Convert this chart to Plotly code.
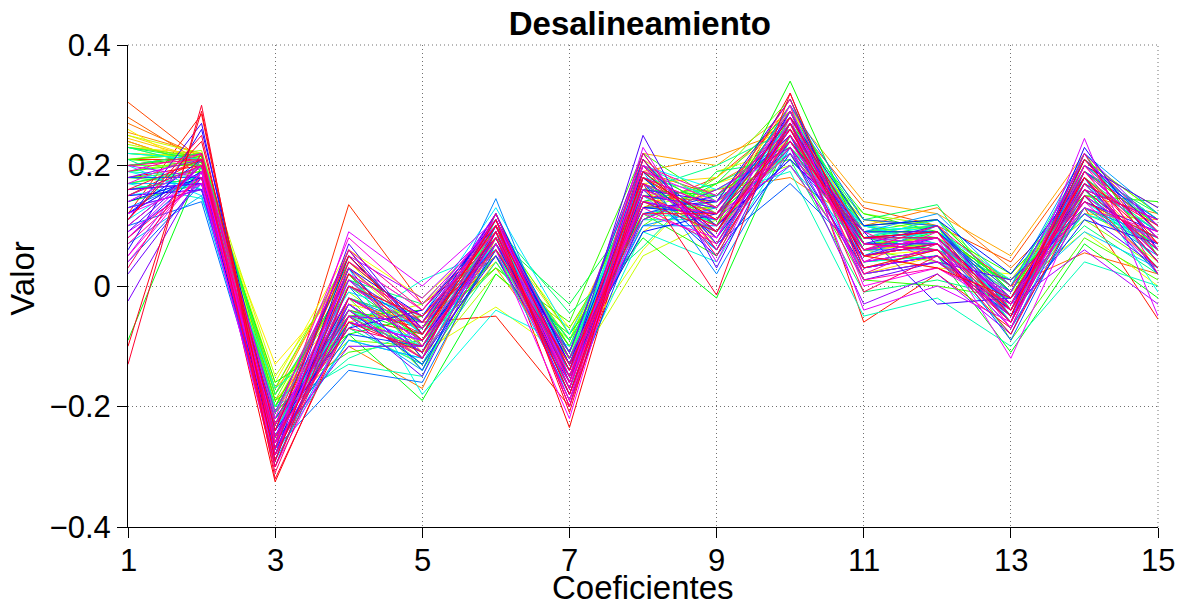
import colorsys
import plotly.graph_objects as go

coeficientes = list(range(1, 16))
x_ticks = [1, 3, 5, 7, 9, 11, 13, 15]
y_ticks = [-0.4, -0.2, 0, 0.2, 0.4]
y_tick_text = ["\u22120.4", "\u22120.2", "0", "0.2", "0.4"]

# Group A: value of each curve at coefficient k (curve index = position in list)
c01 = [0.18, 0.12, 0.21, 0.305, 0.28, 0.27, 0.255, 0.24,
       0.245, 0.23, 0.26, 0.22, 0.2, 0.25, 0.235, 0.21,
       0.2, 0.23, 0.18, 0.21, 0.19, 0.16, -0.09, 0.14,
       0.22, 0.17, 0.2, 0.23, 0.21, 0.19, 0.17, 0.22,
       0.15, 0.2, 0.12, 0.17, 0.15, 0.13, 0.1, 0.18,
       0.08, 0.16, 0.12, 0.14, 0.06, 0.11, 0.09, 0.16,
       -0.025, 0.13, 0.05, 0.2, 0.08, 0.12, 0.04, 0.17,
       0.1, 0.07, 0.2, 0.15, 0.03, 0.11, -0.13, -0.1]
c02 = [0.2, 0.285, 0.21, 0.21, 0.205, 0.215, 0.22, 0.2,
       0.21, 0.22, 0.19, 0.215, 0.2, 0.22, 0.21, 0.225,
       0.2, 0.215, 0.19, 0.22, 0.205, 0.18, 0.2, 0.17,
       0.21, 0.195, 0.22, 0.2, 0.16, 0.18, 0.145, 0.21,
       0.17, 0.15, 0.19, 0.17, 0.2, 0.16, 0.14, 0.18,
       0.19, 0.17, 0.21, 0.18, 0.26, 0.27, 0.2, 0.17,
       0.19, 0.16, 0.21, 0.18, 0.2, 0.17, 0.19, 0.22,
       0.2, 0.18, 0.21, 0.2, 0.22, 0.25, 0.3, 0.29]
c03 = [-0.325, -0.3, -0.26, -0.24, -0.2, -0.22, -0.18, -0.21,
       -0.17, -0.19, -0.13, -0.16, -0.2, -0.15, -0.23, -0.18,
       -0.21, -0.17, -0.24, -0.19, -0.22, -0.2, -0.16, -0.25,
       -0.21, -0.23, -0.18, -0.26, -0.22, -0.2, -0.17, -0.27,
       -0.24, -0.21, -0.28, -0.25, -0.29, -0.23, -0.27, -0.3,
       -0.26, -0.22, -0.28, -0.25, -0.24, -0.29, -0.27, -0.23,
       -0.26, -0.28, -0.21, -0.25, -0.27, -0.3, -0.24, -0.22,
       -0.26, -0.28, -0.23, -0.25, -0.31, -0.27, -0.32, -0.29]
c04 = [-0.05, -0.02, 0.135, 0.06, 0.02, -0.1, 0.05, -0.03,
       0.04, -0.06, 0.01, 0.06, -0.04, 0.03, -0.07, 0.0,
       -0.09, 0.05, -0.02, -0.11, -0.05, 0.02, -0.08, -0.04,
       0.04, -0.06, 0.01, -0.03, -0.12, -0.13, -0.07, 0.03,
       -0.05, -0.01, -0.09, 0.02, -0.06, -0.03, -0.14, 0.0,
       -0.08, -0.04, 0.05, -0.02, -0.07, 0.03, 0.07, -0.05,
       -0.1, 0.01, 0.05, -0.03, 0.09, -0.06, 0.02, 0.08,
       -0.04, 0.0, 0.06, -0.07, -0.02, 0.04, -0.06, 0.02]
c05 = [-0.08, -0.06, -0.03, -0.1, -0.05, -0.17, -0.07, -0.12,
       -0.04, -0.09, -0.06, -0.02, -0.11, -0.08, -0.13, -0.05,
       -0.1, -0.07, -0.14, -0.09, -0.04, -0.12, -0.19, -0.08,
       -0.06, -0.1, -0.03, -0.13, -0.07, -0.15, 0.01, -0.18,
       -0.09, -0.05, -0.12, -0.08, -0.14, -0.11, -0.16, -0.06,
       -0.1, -0.13, -0.07, -0.09, -0.04, -0.12, -0.08, -0.15,
       -0.1, -0.06, -0.02, -0.11, 0.0, -0.09, -0.05, -0.03,
       -0.12, -0.07, -0.04, -0.1, -0.08, -0.06, -0.11, -0.09]
c06 = [0.09, -0.05, 0.06, 0.1, 0.05, 0.08, 0.03, 0.07,
       0.1, 0.06, 0.04, 0.09, -0.035, 0.07, 0.02, 0.08,
       0.05, 0.1, 0.06, 0.03, 0.09, 0.07, 0.02, 0.11,
       0.08, 0.05, 0.1, 0.04, 0.07, 0.12, 0.06, -0.04,
       0.09, 0.13, 0.08, 0.05, 0.1, 0.145, 0.07, 0.11,
       0.09, 0.06, 0.12, 0.08, 0.1, 0.05, 0.11, 0.09,
       0.07, 0.12, 0.1, 0.08, 0.11, 0.06, 0.09, 0.1,
       0.07, 0.11, 0.09, 0.08, 0.1, 0.06, 0.09, 0.11]
c07 = [-0.235, -0.2, -0.15, -0.12, -0.17, -0.09, -0.14, -0.11,
       -0.16, -0.1, -0.13, -0.07, -0.12, -0.15, -0.09, -0.11,
       -0.14, -0.08, -0.12, -0.06, -0.1, -0.13, -0.08, -0.16,
       -0.03, -0.11, -0.045, -0.14, -0.09, -0.12, -0.17, -0.1,
       -0.13, -0.08, -0.15, -0.18, -0.12, -0.16, -0.14, -0.11,
       -0.19, -0.15, -0.13, -0.17, -0.12, -0.16, -0.14, -0.18,
       -0.11, -0.15, -0.2, -0.13, -0.17, -0.22, -0.16, -0.14,
       -0.19, -0.12, -0.17, -0.15, -0.2, -0.13, -0.18, -0.21]
c08 = [0.18, 0.15, 0.2, 0.13, 0.17, 0.11, 0.19, 0.22,
       0.14, 0.16, 0.09, 0.12, 0.06, 0.05, 0.18, 0.13,
       0.2, 0.1, 0.15, 0.22, 0.12, 0.17, 0.08, 0.19,
       0.14, 0.21, 0.065, 0.16, 0.11, 0.18, 0.09, 0.13,
       0.2, 0.15, 0.12, 0.17, 0.1, 0.19, 0.14, 0.21,
       0.12, 0.16, 0.09, 0.18, 0.13, 0.2, 0.25, 0.15,
       0.22, 0.11, 0.17, 0.14, 0.23, 0.19, 0.12, 0.16,
       0.2, 0.13, 0.18, 0.15, 0.21, 0.12, 0.17, 0.19]
c09 = [0.1, 0.14, 0.06, 0.18, 0.12, 0.16, 0.215, 0.2,
       0.15, 0.08, 0.17, 0.13, 0.19, 0.11, 0.07, 0.16,
       0.12, 0.18, 0.09, 0.14, 0.05, 0.1, -0.02, 0.13,
       0.17, 0.08, 0.19, 0.2, 0.11, 0.15, 0.04, 0.12,
       0.16, 0.06, 0.14, 0.09, 0.13, 0.02, 0.11, 0.07,
       0.15, 0.05, 0.12, 0.08, 0.14, 0.1, 0.03, 0.13,
       0.06, 0.16, 0.09, 0.12, 0.04, 0.14, 0.08, 0.11,
       0.15, 0.07, 0.13, 0.1, 0.05, 0.12, -0.015, 0.09]
c10 = [0.32, 0.3, 0.25, 0.28, 0.22, 0.18, 0.26, 0.29,
       0.24, 0.27, 0.21, 0.3, 0.23, 0.25, 0.28, 0.2,
       0.26, 0.31, 0.24, 0.22, 0.27, 0.34, 0.25, 0.29,
       0.23, 0.28, 0.21, 0.26, 0.3, 0.19, 0.24, 0.27,
       0.22, 0.29, 0.25, 0.2, 0.27, 0.23, 0.3, 0.17,
       0.26, 0.22, 0.28, 0.24, 0.31, 0.21, 0.27, 0.25,
       0.29, 0.23, 0.26, 0.2, 0.28, 0.24, 0.3, 0.22,
       0.26, 0.25, 0.31, 0.23, 0.27, 0.24, 0.32, 0.26]
c11 = [0.02, -0.06, 0.05, 0.13, 0.08, 0.1, 0.04, 0.14,
       0.07, 0.02, 0.09, 0.05, 0.11, 0.06, 0.08, 0.03,
       0.1, 0.06, 0.09, 0.01, 0.12, 0.07, 0.04, 0.1,
       0.08, 0.11, -0.01, 0.06, 0.09, -0.05, 0.07, 0.04,
       0.1, 0.08, 0.02, 0.06, 0.09, 0.07, 0.11, 0.05,
       0.08, 0.03, 0.1, 0.06, 0.04, 0.09, 0.07, 0.01,
       0.05, -0.03, 0.08, 0.03, -0.04, 0.06, 0.0, 0.07,
       0.04, 0.09, 0.02, 0.06, -0.01, 0.08, 0.03, 0.05]
c12 = [0.04, 0.02, 0.07, 0.1, 0.09, 0.13, 0.06, 0.12,
       0.08, 0.05, 0.1, 0.03, 0.09, 0.07, 0.11, 0.06,
       0.08, 0.04, 0.1, 0.0, 0.09, 0.07, 0.05, 0.11,
       0.06, 0.135, 0.01, 0.08, 0.1, -0.02, 0.07, 0.05,
       0.09, 0.11, 0.04, 0.08, 0.12, 0.06, 0.1, 0.07,
       0.09, 0.05, 0.11, 0.08, 0.06, -0.03, 0.1, 0.04,
       0.07, 0.02, 0.09, 0.05, 0.0, 0.08, 0.03, 0.06,
       0.09, 0.04, 0.07, 0.1, 0.05, 0.08, 0.06, 0.03]
c13 = [-0.04, -0.07, -0.01, 0.04, 0.0, 0.03, -0.02, 0.05,
       -0.03, 0.01, -0.05, 0.02, -0.01, -0.04, 0.0, -0.06,
       0.01, -0.03, -0.09, -0.02, 0.02, -0.05, -0.11, -0.01,
       0.01, -0.04, -0.02, 0.0, -0.06, -0.1, -0.03, -0.08,
       0.01, -0.05, -0.02, -0.04, 0.0, -0.07, -0.03, -0.09,
       -0.01, -0.05, 0.02, -0.03, -0.06, -0.02, -0.04, 0.01,
       -0.05, -0.08, -0.03, -0.01, -0.06, -0.12, -0.04, -0.02,
       -0.07, -0.03, -0.05, 0.0, -0.06, -0.04, -0.08, -0.02]
c14 = [0.16, 0.13, 0.19, 0.21, 0.055, 0.15, 0.18, 0.22,
       0.12, 0.17, 0.2, 0.14, 0.09, 0.19, 0.16, 0.21,
       0.11, 0.18, 0.08, 0.2, 0.15, 0.22, 0.07, 0.17,
       0.13, 0.19, 0.1, 0.21, 0.16, 0.04, 0.12, 0.18,
       0.14, 0.2, 0.09, 0.17, 0.22, 0.13, 0.19, 0.15,
       0.21, 0.11, 0.18, 0.16, 0.23, 0.14, 0.2, 0.12,
       0.19, 0.17, 0.06, 0.21, 0.245, 0.15, 0.18, 0.13,
       0.2, 0.16, 0.22, 0.14, 0.19, 0.17, 0.15, 0.18]
c15 = [0.06, -0.055, 0.08, 0.1, 0.02, 0.12, 0.05, 0.09,
       0.11, 0.04, 0.13, 0.07, 0.0, 0.1, 0.06, 0.12,
       0.03, 0.08, 0.01, 0.11, 0.14, 0.05, -0.02, 0.09,
       0.07, 0.12, 0.02, 0.1, 0.04, 0.0, 0.08, -0.01,
       0.06, 0.11, 0.03, 0.09, 0.12, 0.05, 0.08, 0.02,
       0.1, 0.07, 0.04, 0.11, 0.06, 0.09, 0.13, 0.03,
       0.08, 0.05, -0.03, 0.1, -0.05, 0.07, 0.04, 0.09,
       0.06, 0.11, 0.02, 0.08, 0.05, 0.1, 0.03, 0.07]

# Group B: further curves in the dense core of the bundle
d01 = [0.15, 0.2, 0.24, 0.22, 0.25, 0.21, 0.23, 0.19, 0.17, 0.21, 0.2, 0.18, 0.23, 0.16, 0.14, 0.19,
       0.11, 0.07, 0.13, 0.04, 0.1, 0.15, 0.12, 0.02, 0.18, 0.09, 0.14, 0.05, 0.19, 0.08, 0.16, 0.11]
d02 = [0.21, 0.22, 0.2, 0.215, 0.21, 0.22, 0.2, 0.21, 0.19, 0.2, 0.215, 0.17, 0.21, 0.18, 0.2, 0.16,
       0.19, 0.15, 0.18, 0.17, 0.2, 0.16, 0.19, 0.18, 0.21, 0.17, 0.2, 0.19, 0.22, 0.18, 0.21, 0.24]
d03 = [-0.28, -0.23, -0.19, -0.21, -0.17, -0.2, -0.22, -0.18, -0.19, -0.23, -0.21, -0.25, -0.2, -0.24, -0.22, -0.26,
       -0.24, -0.27, -0.23, -0.28, -0.25, -0.26, -0.28, -0.24, -0.27, -0.25, -0.29, -0.23, -0.26, -0.28, -0.3, -0.24]
d04 = [-0.04, 0.01, -0.05, 0.02, -0.03, 0.04, -0.06, -0.01, 0.03, -0.04, -0.08, 0.0, -0.05, -0.02, -0.07, 0.01,
       -0.04, -0.09, -0.02, 0.0, -0.06, 0.03, -0.03, 0.06, -0.05, 0.01, 0.04, -0.02, 0.03, -0.05, 0.0, 0.05]
d05 = [-0.07, -0.09, -0.05, -0.11, -0.06, -0.08, -0.03, -0.1, -0.07, -0.12, -0.05, -0.09, -0.11, -0.06, -0.13, -0.08,
       -0.1, -0.12, -0.07, -0.14, -0.09, -0.05, -0.11, -0.08, -0.06, -0.1, -0.04, -0.09, -0.07, -0.12, -0.05, -0.08]
d06 = [0.08, 0.05, 0.07, 0.04, 0.09, 0.06, 0.08, 0.05, 0.03, 0.07, 0.09, 0.06, 0.1, 0.08, 0.11, 0.07,
       0.09, 0.12, 0.08, 0.1, 0.07, 0.11, 0.09, 0.12, 0.1, 0.08, 0.11, 0.09, 0.1, 0.12, 0.08, 0.1]
d07 = [-0.16, -0.12, -0.1, -0.13, -0.08, -0.11, -0.09, -0.12, -0.07, -0.1, -0.13, -0.09, -0.11, -0.14, -0.12, -0.15,
       -0.13, -0.16, -0.14, -0.17, -0.15, -0.13, -0.18, -0.16, -0.14, -0.19, -0.15, -0.17, -0.2, -0.16, -0.18, -0.14]
d08 = [0.16, 0.19, 0.14, 0.21, 0.17, 0.12, 0.18, 0.15, 0.13, 0.19, 0.16, 0.11, 0.17, 0.14, 0.2, 0.12,
       0.18, 0.15, 0.1, 0.17, 0.13, 0.19, 0.16, 0.21, 0.14, 0.18, 0.2, 0.15, 0.17, 0.22, 0.14, 0.18]
d09 = [0.12, 0.15, 0.17, 0.13, 0.18, 0.14, 0.11, 0.16, 0.13, 0.1, 0.15, 0.17, 0.12, 0.09, 0.14, 0.11,
       0.08, 0.13, 0.1, 0.06, 0.12, 0.09, 0.14, 0.07, 0.11, 0.13, 0.08, 0.1, 0.12, 0.06, 0.09, 0.11]
d10 = [0.28, 0.26, 0.24, 0.29, 0.27, 0.25, 0.3, 0.23, 0.28, 0.26, 0.24, 0.29, 0.22, 0.27, 0.25, 0.28,
       0.23, 0.26, 0.21, 0.27, 0.24, 0.29, 0.25, 0.27, 0.23, 0.28, 0.26, 0.24, 0.29, 0.25, 0.27, 0.28]
d11 = [0.06, 0.09, 0.11, 0.07, 0.1, 0.05, 0.08, 0.12, 0.07, 0.09, 0.1, 0.06, 0.08, 0.04, 0.09, 0.07,
       0.1, 0.05, 0.08, 0.06, 0.09, 0.03, 0.07, 0.05, 0.02, 0.08, 0.04, 0.06, 0.01, 0.07, 0.05, 0.08]
d12 = [0.07, 0.09, 0.1, 0.08, 0.11, 0.06, 0.09, 0.1, 0.08, 0.11, 0.07, 0.09, 0.1, 0.06, 0.08, 0.09,
       0.07, 0.1, 0.08, 0.06, 0.09, 0.05, 0.07, 0.08, 0.04, 0.07, 0.06, 0.08, 0.03, 0.06, 0.07, 0.09]
d13 = [-0.02, 0.0, -0.03, 0.01, -0.01, -0.04, 0.0, -0.02, -0.05, -0.01, -0.03, 0.0, -0.04, -0.02, -0.06, -0.03,
       -0.01, -0.05, -0.03, -0.07, -0.02, -0.04, -0.06, -0.03, -0.05, -0.02, -0.07, -0.04, -0.03, -0.06, -0.04, -0.05]
d14 = [0.17, 0.14, 0.19, 0.16, 0.2, 0.13, 0.18, 0.15, 0.21, 0.17, 0.14, 0.19, 0.16, 0.12, 0.18, 0.15,
       0.2, 0.17, 0.13, 0.19, 0.16, 0.21, 0.18, 0.15, 0.22, 0.17, 0.19, 0.14, 0.2, 0.16, 0.18, 0.21]
d15 = [0.05, 0.08, 0.1, 0.06, 0.11, 0.04, 0.09, 0.07, 0.12, 0.05, 0.08, 0.1, 0.03, 0.07, 0.09, 0.06,
       0.1, 0.04, 0.08, 0.11, 0.06, 0.09, 0.02, 0.07, 0.1, 0.05, 0.08, 0.03, 0.09, 0.06, 0.04, 0.07]

group_a = [c01, c02, c03, c04, c05, c06, c07, c08, c09, c10, c11, c12, c13, c14, c15]
group_b = [d01, d02, d03, d04, d05, d06, d07, d08, d09, d10, d11, d12, d13, d14, d15]

# curves with their hue (hsv colormap position); drawn in hue order
curves = []
na = len(c01)
for i in range(na):
    curves.append((i / na, [col[i] for col in group_a]))
nb = len(d01)
for j in range(nb):
    curves.append(((j + 0.5) / nb, [col[j] for col in group_b]))
curves.sort(key=lambda t: t[0])

fig = go.Figure()
for hue, values in curves:
    r, g, b = colorsys.hsv_to_rgb(hue, 1.0, 1.0)
    color = "rgb(%d,%d,%d)" % (round(r * 255), round(g * 255), round(b * 255))
    fig.add_trace(go.Scatter(
        x=coeficientes, y=values, mode="lines",
        line=dict(color=color, width=1),
        showlegend=False, hoverinfo="skip",
    ))

font_family = "Liberation Sans, Arial, sans-serif"
grid_dash = "1px,3px"
grid_color = "#707070"

# x tick labels placed just under the tick marks (tight, as in the reference)
tick_annotations = [
    dict(text=str(v), xref="x", yref="paper", x=v, y=-0.069,
         xanchor="center", yanchor="middle", showarrow=False,
         font=dict(size=31, color="black"))
    for v in x_ticks
]

fig.update_layout(
    width=1179, height=607,
    margin=dict(l=128, r=21, t=45, b=80),
    paper_bgcolor="white", plot_bgcolor="white",
    font=dict(family=font_family, size=31, color="black"),
    title=dict(text="<b>Desalineamiento</b>", x=0.5427, xanchor="center",
               y=0.961, yanchor="middle", font=dict(size=33, color="black")),
    showlegend=False,
    shapes=[
        dict(type="line", xref="paper", yref="paper", x0=0, x1=1, y0=1, y1=1,
             line=dict(color=grid_color, width=1, dash=grid_dash), layer="below"),
        dict(type="line", xref="paper", yref="paper", x0=1, x1=1, y0=0, y1=1,
             line=dict(color=grid_color, width=1, dash=grid_dash), layer="below"),
    ],
    annotations=tick_annotations + [
        dict(text="Coeficientes", xref="paper", yref="paper", x=0.5, y=-0.126,
             xanchor="center", yanchor="middle", showarrow=False,
             font=dict(size=33, color="black")),
        dict(text="Valor", xref="paper", yref="paper", x=-0.102, y=0.517,
             xanchor="center", yanchor="middle", textangle=-90, showarrow=False,
             font=dict(size=33, color="black")),
    ],
)
fig.update_xaxes(
    range=[1, 15], tickvals=x_ticks, showticklabels=False,
    showline=True, linecolor="black", linewidth=1, mirror=False,
    ticks="outside", ticklen=10, tickcolor="black",
    showgrid=True, gridcolor=grid_color, griddash=grid_dash, gridwidth=1,
    zeroline=False, automargin=False,
)
fig.update_yaxes(
    range=[-0.4, 0.4], tickvals=y_ticks, ticktext=y_tick_text,
    showline=True, linecolor="black", linewidth=1, mirror=False,
    ticks="outside", ticklen=10, tickcolor="black",
    showgrid=True, gridcolor=grid_color, griddash=grid_dash, gridwidth=1,
    zeroline=False, automargin=False, tickfont=dict(size=31),
)

fig.write_html("out.html")
